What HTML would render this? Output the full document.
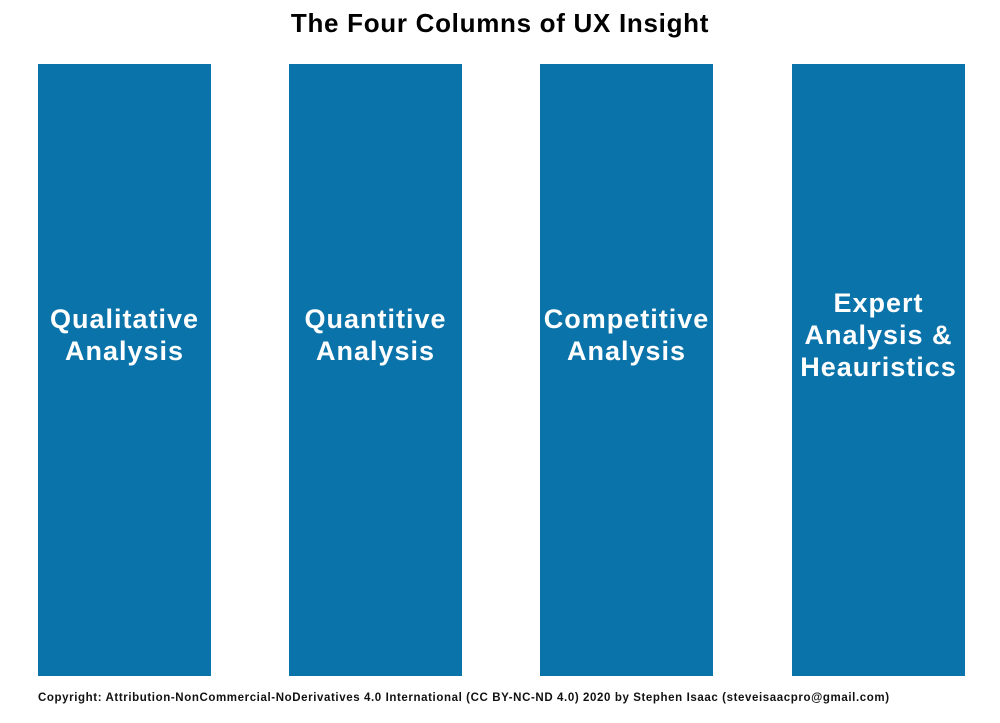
<!DOCTYPE html>
<html><head><meta charset="utf-8"><style>
body{margin:0;width:1000px;height:723px;background:#fff;position:relative;overflow:hidden;font-family:"Liberation Sans",sans-serif}
.t{position:absolute;top:8px;left:0;width:1000px;text-align:center;font-size:26px;font-weight:bold;color:#000;letter-spacing:0.7px}
.c{position:absolute;top:64px;width:173px;height:612px;background:#0a73aa;color:#fff;font-weight:bold;font-size:27px;line-height:32px;letter-spacing:1px;display:flex;align-items:center;justify-content:center;text-align:center}
.c span{position:relative;top:-35px}
.f{position:absolute;left:38px;top:692px;font-size:11.5px;font-weight:bold;color:#111;letter-spacing:0.6px;white-space:nowrap}
</style></head><body>
<div class="t">The Four Columns of UX Insight</div>
<div class="c" style="left:38px"><span>Qualitative<br>Analysis</span></div>
<div class="c" style="left:289px"><span>Quantitive<br>Analysis</span></div>
<div class="c" style="left:540px"><span>Competitive<br>Analysis</span></div>
<div class="c" style="left:792px"><span>Expert<br>Analysis &amp;<br>Heauristics</span></div>
<div class="f">Copyright: Attribution-NonCommercial-NoDerivatives 4.0 International (CC BY-NC-ND 4.0) 2020 by Stephen Isaac (steveisaacpro@gmail.com)</div>
</body></html>
